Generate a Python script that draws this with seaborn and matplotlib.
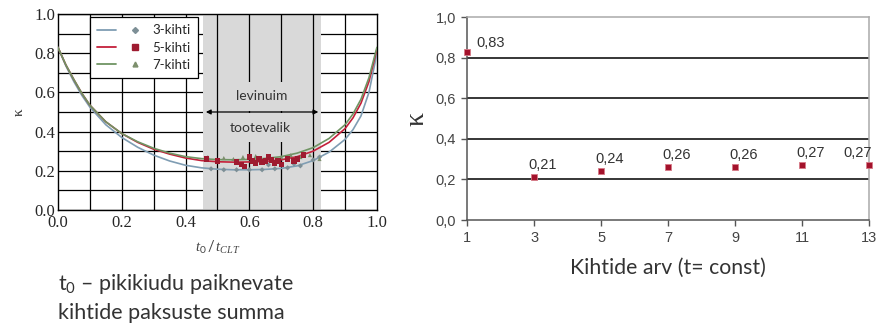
import numpy as np
import pandas as pd
import matplotlib
matplotlib.use("Agg")
import matplotlib.pyplot as plt
from matplotlib.lines import Line2D
from matplotlib.legend_handler import HandlerTuple
import seaborn as sns

# ── data: left panel (kappa vs t0/tCLT) ──
t_ratio = [0, .025, .05, .075, .1, .15, .2, .25, .3, .35, .4, .45, .5, .55,
           .6, .65, .7, .75, .8, .85, .9, .925, .95, .975, 1.0]
kappa_3 = [0.83, 0.735, 0.655, 0.585, 0.525, 0.435, 0.37, 0.32, 0.28, 0.25,
           0.228, 0.215, 0.208, 0.205, 0.205, 0.207, 0.212, 0.225, 0.252,
           0.295, 0.36, 0.41, 0.48, 0.60, 0.80]
kappa_5 = [0.83, 0.74, 0.665, 0.595, 0.535, 0.45, 0.39, 0.345, 0.31, 0.285,
           0.265, 0.252, 0.246, 0.244, 0.245, 0.248, 0.256, 0.272, 0.30,
           0.345, 0.415, 0.47, 0.545, 0.655, 0.82]
kappa_7 = [0.83, 0.74, 0.665, 0.595, 0.535, 0.45, 0.39, 0.348, 0.315, 0.29,
           0.272, 0.262, 0.257, 0.256, 0.258, 0.263, 0.272, 0.29, 0.318,
           0.365, 0.435, 0.49, 0.565, 0.675, 0.83]

pts3_x = [0.48, 0.52, 0.56, 0.60, 0.64, 0.66, 0.68, 0.72, 0.74, 0.76, 0.80, 0.82]
pts3_y = [0.21, 0.205, 0.205, 0.205, 0.205, 0.23, 0.21, 0.215, 0.235, 0.225, 0.255, 0.27]
pts5_x = [0.465, 0.50, 0.56, 0.575, 0.585, 0.60, 0.61, 0.62, 0.63, 0.64,
          0.65, 0.66, 0.67, 0.68, 0.69, 0.70, 0.72, 0.74, 0.75, 0.77]
pts5_y = [0.26, 0.25, 0.245, 0.23, 0.22, 0.27, 0.25, 0.24, 0.26, 0.245,
          0.25, 0.27, 0.255, 0.24, 0.25, 0.23, 0.26, 0.25, 0.26, 0.28]
pts7_x = [0.47, 0.52, 0.55, 0.58, 0.62, 0.66, 0.70, 0.73, 0.76, 0.79, 0.82]
pts7_y = [0.27, 0.265, 0.26, 0.27, 0.275, 0.27, 0.27, 0.28, 0.27, 0.28, 0.26]

# ── data: right panel (kappa vs number of layers) ──
layers = [1, 3, 5, 7, 9, 11, 13]
kappa_layers = [0.83, 0.21, 0.24, 0.26, 0.26, 0.27, 0.27]

C3, C5, C7 = "#7f9db3", "#c4203a", "#6f9463"
SERIF = ["Liberation Serif", "DejaVu Serif"]
CAL = ["Lato", "DejaVu Sans"]

sns.set_style("white")
plt.rcParams.update({
    "mathtext.fontset": "custom",
    "mathtext.rm": "Lato",
    "mathtext.it": "Liberation Serif:italic",
})

fig = plt.figure(figsize=(8.78, 3.27), dpi=100)
ax1 = fig.add_axes([0.066, 0.358, 0.3633, 0.599])
ax2 = fig.add_axes([0.532, 0.327, 0.458, 0.621])

# ── left panel ──
ax1.set_xlim(0, 1)
ax1.set_ylim(0, 1)
ax1.set_axisbelow(True)
ax1.set_yticks(np.arange(0, 1.01, 0.1), minor=True)
ax1.grid(axis="y", which="both", color="black", lw=0.9)
ax1.axvspan(0.455, 0.825, color="#d9d9d9", zorder=1, lw=0)
for xv in np.arange(0.1, 1.0, 0.1):
    ax1.axvline(xv, color="black", lw=0.9, zorder=1.5)

ax1.annotate("", xy=(0.455, 0.5), xytext=(0.825, 0.5),
             arrowprops=dict(arrowstyle="<|-|>", color="black", lw=0.9,
                             mutation_scale=7), zorder=2.5)
ax1.text(0.64, 0.58, "levinuim", ha="center", va="center", fontsize=10,
         family=CAL, color="#333333", zorder=2.2,
         bbox=dict(fc="#d9d9d9", ec="none", pad=6))
ax1.text(0.635, 0.42, "tootevalik", ha="center", va="center", fontsize=10,
         family=CAL, color="#333333", zorder=2.2,
         bbox=dict(fc="#d9d9d9", ec="none", pad=6))

df_curves = pd.DataFrame({"t": t_ratio * 3,
                          "k": kappa_3 + kappa_5 + kappa_7,
                          "s": ["3-kihti"] * len(t_ratio) + ["5-kihti"] * len(t_ratio)
                          + ["7-kihti"] * len(t_ratio)})
sns.lineplot(data=df_curves, x="t", y="k", hue="s",
             palette={"3-kihti": C3, "5-kihti": C5, "7-kihti": C7},
             lw=1.2, legend=False, ax=ax1, zorder=3, sort=False)
sns.scatterplot(x=pts3_x, y=pts3_y, marker="D", s=7, color="#7d8f96",
                edgecolor="none", ax=ax1, zorder=4)
sns.scatterplot(x=pts7_x, y=pts7_y, marker="^", s=9, color="#7c8f6c",
                edgecolor="none", ax=ax1, zorder=4)
sns.scatterplot(x=pts5_x, y=pts5_y, marker="s", s=14, color="#9e1b30",
                edgecolor="none", ax=ax1, zorder=5)

handles = [(Line2D([], [], color=c, lw=1.3),
            Line2D([], [], ls="none", marker=m, ms=ms, color=mc))
           for c, m, ms, mc in [(C3, "D", 3, "#7d8f96"),
                                (C5, "s", 4, "#9e1b30"),
                                (C7, "^", 3.5, "#7c8f6c")]]
leg = ax1.legend(handles, ["3-kihti", "5-kihti", "7-kihti"],
                 handler_map={tuple: HandlerTuple(ndivide=None, pad=0.7)},
                 loc="upper left", bbox_to_anchor=(0.08, 1.018),
                 fancybox=False, framealpha=1, edgecolor="black",
                 handlelength=3.6, handletextpad=0.6, labelspacing=0.4,
                 prop={"family": CAL, "size": 9.5}, borderpad=0.55)
leg.get_frame().set_linewidth(0.9)
leg.set_zorder(6)

ax1.set_xticks(np.arange(0, 1.01, 0.2))
ax1.set_yticks(np.arange(0, 1.01, 0.2))
ax1.set_xticklabels([f"{v:.1f}" for v in np.arange(0, 1.01, 0.2)],
                    family=SERIF, fontsize=12)
ax1.set_yticklabels([f"{v:.1f}" for v in np.arange(0, 1.01, 0.2)],
                    family=SERIF, fontsize=12)
ax1.tick_params(axis="y", length=0, pad=2)
ax1.tick_params(axis="x", length=0, pad=4)
for sp in ax1.spines.values():
    sp.set_color("black")
    sp.set_linewidth(1)
ax1.set_xlabel(r"$\mathit{t}_{\mathit{0}}\,\mathit{/}\,\mathit{t}_{\mathit{CLT}}$",
               fontsize=10.5, color="#444444", labelpad=5)
ax1.set_ylabel("κ", family=SERIF, fontsize=11, color="#333333", labelpad=6)

fig.text(0.066, 0.09, "t$_{\\mathrm{0}}$ – pikikiudu paiknevate\nkihtide paksuste summa",
         family=CAL, fontsize=15.5, color="#333333", ha="left", va="center",
         linespacing=1.4)

# ── right panel ──
sns.scatterplot(x=layers, y=kappa_layers, marker="s", s=18,
                color="#a3122b", edgecolor="#d77a88", linewidth=0.6,
                ax=ax2, zorder=4, clip_on=False)
for i, (xv, yv) in enumerate(zip(layers, kappa_layers)):
    if i == 0:
        off, ha = (7, 1), "left"
    elif i == len(layers) - 1:
        off, ha = (2, 4), "right"
    else:
        off, ha = (-4, 4), "left"
    ax2.annotate(f"{yv:.2f}".replace(".", ","), (xv, yv), xytext=off,
                 textcoords="offset points", ha=ha, va="bottom",
                 fontsize=10.5, family=["Liberation Sans", "DejaVu Sans"],
                 color="#333333")
ax2.set_xlim(1, 13)
ax2.set_ylim(0, 1)
ax2.set_xticks(layers)
ax2.set_yticks(np.arange(0, 1.01, 0.2))
ax2.set_yticklabels([f"{v:.1f}".replace(".", ",") for v in np.arange(0, 1.01, 0.2)])
for lab in ax2.get_xticklabels() + ax2.get_yticklabels():
    lab.set_family(["Liberation Sans", "DejaVu Sans"])
    lab.set_fontsize(10.5)
    lab.set_color("#444444")
for yv in [0.2, 0.4, 0.6, 0.8]:
    ax2.axhline(yv, color="black", lw=1.1, zorder=1)
ax2.tick_params(axis="both", direction="out", length=4, width=1,
                color="#555555", pad=4, bottom=True, left=True)
ax2.spines["left"].set_color("#555555")
ax2.spines["bottom"].set_color("#555555")
ax2.spines["top"].set_color("#aaaaaa")
ax2.spines["right"].set_color("#aaaaaa")
for sp in ax2.spines.values():
    sp.set_linewidth(1.1)
ax2.set_xlabel("Kihtide arv (t= const)", family=CAL, fontsize=15.3,
               color="#333333", labelpad=9)
ax2.set_ylabel("κ", family=SERIF, fontsize=20, color="#333333", labelpad=4)

fig.savefig("out.png", dpi=100, facecolor="white")
